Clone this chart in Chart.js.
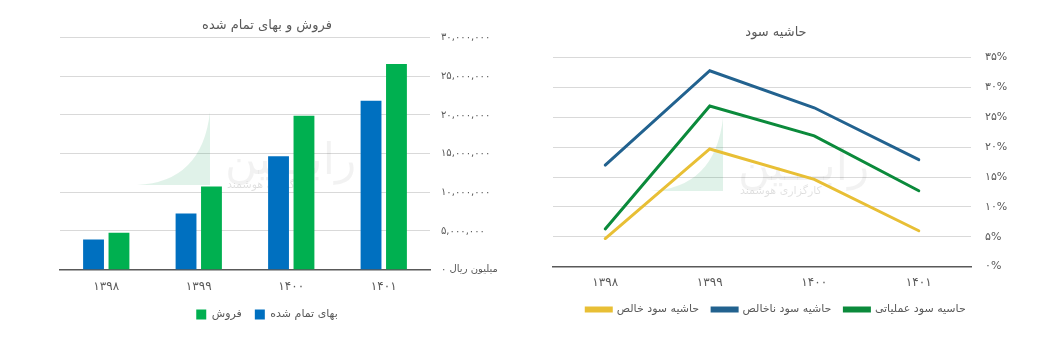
<!DOCTYPE html>
<html>
<head>
<meta charset="utf-8">
<script src="https://cdn.jsdelivr.net/npm/chart.js@4/dist/chart.umd.min.js"></script>
<style>
  body { margin: 0; background: #fff; }
  .box { position: absolute; top: 0; height: 353px; }
  #left { left: 0; width: 530px; }
  #right { left: 530px; width: 526px; }
</style>
</head>
<body>
<div class="box" id="left"><canvas id="sales" width="530" height="353"></canvas></div>
<div class="box" id="right"><canvas id="margins" width="526" height="353"></canvas></div>
<script>
// years (persian calendar)
const years = ['۱۳۹۸', '۱۳۹۹', '۱۴۰۰', '۱۴۰۱']

// million rials
const costOfSales = [3900000, 7250000, 14650000, 21850000]
const sales = [4750000, 10750000, 19900000, 26600000]

// percent
const grossMargin = [17.0, 32.8, 26.6, 17.9]
const operatingMargin = [6.3, 26.9, 21.9, 12.7]
const netMargin = [4.7, 19.7, 14.6, 6.0]

const font = "'DejaVu Sans', sans-serif"
const grey = '#595959'
const gridGrey = '#d9d9d9'

function faDigits(s){
    return String(s).replace(/\d/g, d => '۰۱۲۳۴۵۶۷۸۹'[d])
}

function moneyTick(v){
    if (v === 0) return 'میلیون ریال ۰'
    return faDigits(v.toLocaleString('en-US'))
}

// empty axis on the left, only to push the plot area in
function spacer(w){
    return {
        position: 'left',
        display: true,
        grid: {display: false},
        border: {display: false},
        ticks: {display: false},
        afterFit: s => { s.width = w }
    }
}

// faint logo behind the plots
function watermark(x, y){
    return {
        id: 'watermark',
        beforeDatasetsDraw(chart){
            const c = chart.ctx
            c.save()
            c.fillStyle = 'rgba(0,150,70,0.12)'
            c.beginPath()
            c.moveTo(x, y + 73)
            c.quadraticCurveTo(x + 65, y + 70, x + 73, y)
            c.lineTo(x + 73, y + 73)
            c.closePath()
            c.fill()
            c.fillStyle = 'rgba(0,0,0,0.05)'
            c.font = '44px ' + font
            c.textAlign = 'left'
            c.textBaseline = 'alphabetic'
            c.fillText('رابـــین', x + 88, y + 62)
            c.fillStyle = 'rgba(0,0,0,0.12)'
            c.font = '11px ' + font
            c.fillText('کارگزاری هوشمند', x + 90, y + 76)
            c.restore()
        }
    }
}

new Chart(document.querySelector('#sales'), {
    type: 'bar',
    data: {
        labels: years,
        datasets: [{
            label: 'بهای تمام شده',
            data: costOfSales,
            backgroundColor: '#0070c0'
        }, {
            label: 'فروش',
            data: sales,
            backgroundColor: '#00b050'
        }]
    },
    options: {
        responsive: false,
        animation: false,
        categoryPercentage: 0.55,
        barPercentage: 0.82,
        layout: {padding: {left: 4, right: 0, top: 14, bottom: 23}},
        plugins: {
            title: {
                display: true,
                text: 'فروش و بهای تمام شده',
                color: grey,
                font: {family: font, size: 13, weight: 'normal'},
                padding: {top: 4, bottom: 4}
            },
            legend: {
                position: 'bottom',
                reverse: true,
                labels: {color: grey, boxWidth: 10, boxHeight: 10, padding: 13, font: {family: font, size: 11}}
            },
            tooltip: {enabled: false}
        },
        scales: {
            pad: spacer(56),
            x: {
                grid: {display: false},
                border: {color: grey, width: 1.5},
                ticks: {color: grey, font: {family: font, size: 12}, padding: 2}
            },
            y: {
                position: 'right',
                min: 0,
                max: 30000000,
                afterFit: s => { s.width = 100 },
                border: {display: false},
                grid: {color: gridGrey, drawTicks: false},
                ticks: {stepSize: 5000000, color: grey, padding: 11, font: {family: font, size: 10}, callback: moneyTick}
            }
        }
    },
    plugins: [watermark(137, 112)]
})

new Chart(document.querySelector('#margins'), {
    type: 'line',
    data: {
        labels: years,
        datasets: [{
            label: 'حاشیه سود خالص',
            data: netMargin,
            borderColor: '#e8bf35',
            backgroundColor: '#e8bf35'
        }, {
            label: 'حاشیه سود ناخالص',
            data: grossMargin,
            borderColor: '#22628f',
            backgroundColor: '#22628f'
        }, {
            label: 'حاسیه سود عملیاتی',
            data: operatingMargin,
            borderColor: '#0b8a3b',
            backgroundColor: '#0b8a3b'
        }]
    },
    options: {
        responsive: false,
        animation: false,
        elements: {
            line: {borderWidth: 3, tension: 0, borderCapStyle: 'round'},
            point: {radius: 0}
        },
        layout: {padding: {left: 0, right: 34, top: 21, bottom: 28}},
        plugins: {
            title: {
                display: true,
                text: 'حاشیه سود',
                color: grey,
                font: {family: font, size: 13, weight: 'normal'},
                padding: {top: 4, bottom: 17}
            },
            legend: {
                position: 'bottom',
                labels: {color: grey, boxWidth: 25, boxHeight: 3, padding: 13, font: {family: font, size: 11}}
            },
            tooltip: {enabled: false}
        },
        scales: {
            pad: spacer(23),
            x: {
                offset: true,
                grid: {display: false},
                border: {color: grey, width: 1.5},
                ticks: {color: grey, font: {family: font, size: 12}, padding: 1}
            },
            y: {
                position: 'right',
                min: 0,
                max: 35,
                afterFit: s => { s.width = 51 },
                border: {display: false},
                grid: {color: gridGrey, drawTicks: false},
                ticks: {stepSize: 5, color: grey, padding: 14, font: {family: font, size: 11}, callback: v => faDigits(v) + '%'}
            }
        }
    },
    plugins: [watermark(650 - 530, 118)]
})
</script>
</body>
</html>
